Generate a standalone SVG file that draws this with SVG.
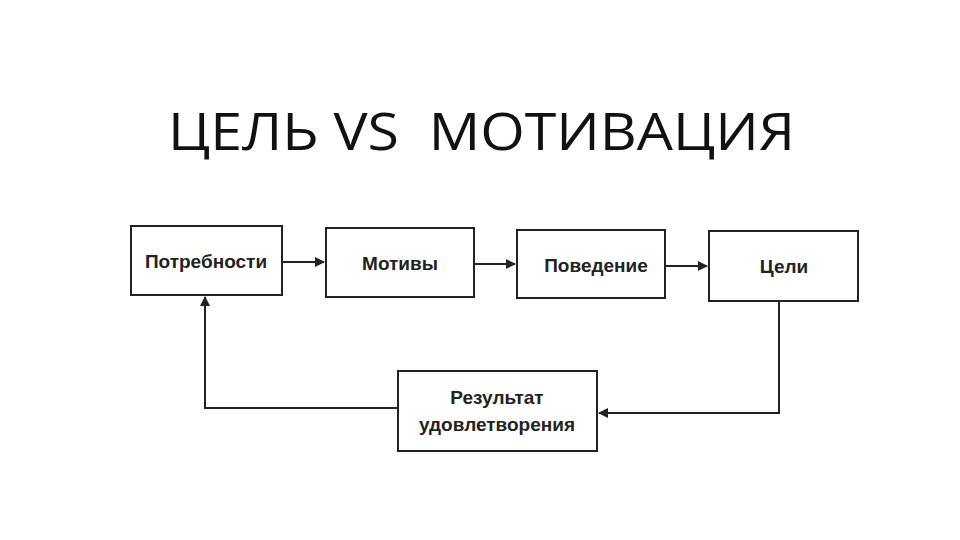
<svg xmlns="http://www.w3.org/2000/svg" width="960" height="540" viewBox="0 0 960 540">
<style>
.box{fill:#fff;stroke:#222;stroke-width:2}
.t{font-family:"Liberation Sans",Arial,sans-serif;font-size:19px;fill:#222;text-anchor:middle;font-weight:bold}
.c{fill:none;stroke:#222;stroke-width:2}
</style>
<defs><marker id="a" markerWidth="10" markerHeight="10" refX="9" refY="5" orient="auto" markerUnits="userSpaceOnUse"><path d="M0,0 L10,5 L0,10 z" fill="#222"/></marker></defs>
<rect width="960" height="540" fill="#fff"/>
<text x="168" y="150" font-family="'Open Sans','Liberation Sans',Arial,sans-serif" font-size="52" fill="#111" textLength="627" lengthAdjust="spacingAndGlyphs" xml:space="preserve">ЦЕЛЬ VS  МОТИВАЦИЯ</text>
<g id="n1"><rect class="box" x="131" y="226" width="151" height="69"/><text class="t" x="206" y="268">Потребности</text></g>
<g id="n2"><rect class="box" x="326" y="228" width="148" height="69"/><text class="t" x="400" y="270">Мотивы</text></g>
<g id="n3"><rect class="box" x="517" y="230" width="148" height="68"/><text class="t" x="596" y="272">Поведение</text></g>
<g id="n4"><rect class="box" x="709" y="231" width="149" height="70"/><text class="t" x="784" y="273">Цели</text></g>
<g id="n5"><rect class="box" x="398" y="371" width="199" height="80"/><text class="t" x="497" y="404">Результат</text><text class="t" x="497" y="431">удовлетворения</text></g>
<g id="connectors">
<path class="c" d="M282,262 H324" marker-end="url(#a)"/>
<path class="c" d="M474,264 H515" marker-end="url(#a)"/>
<path class="c" d="M665,266 H707" marker-end="url(#a)"/>
<path class="c" d="M779,301 V413 H599" marker-end="url(#a)"/>
<path class="c" d="M398,408 H205 V297" marker-end="url(#a)"/>
</g>
</svg>
